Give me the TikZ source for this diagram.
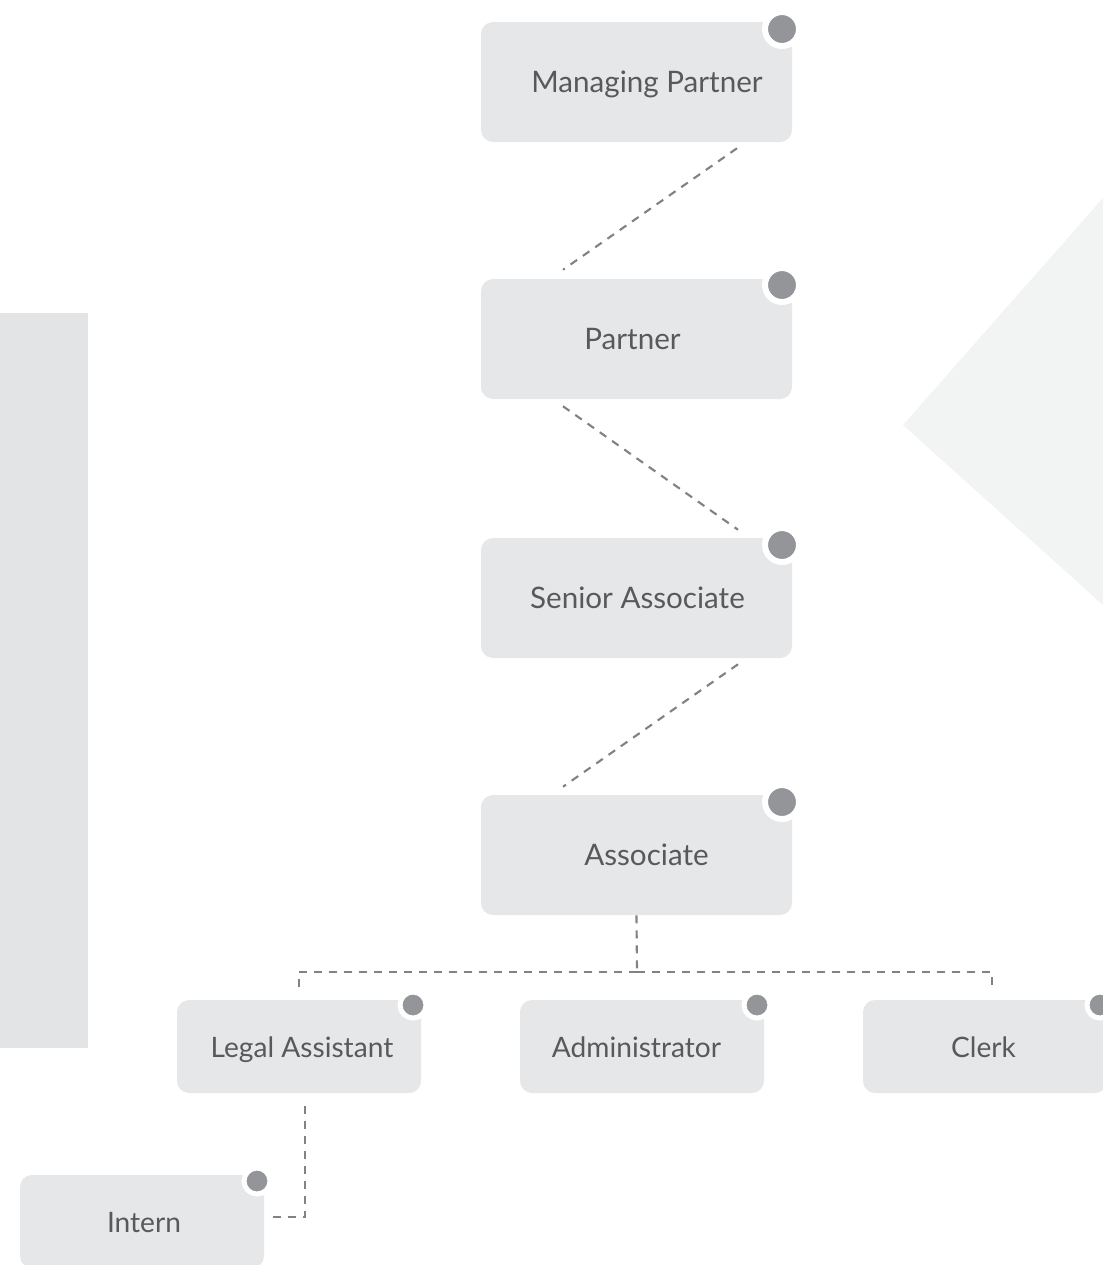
\documentclass[tikz,border=0pt]{standalone}
\usepackage{fontspec}
\setmainfont{Lato}
\usetikzlibrary{calc}
\definecolor{boxfill}{HTML}{E6E7E8}
\definecolor{txtc}{HTML}{58595B}
\definecolor{dotc}{HTML}{939598}
\definecolor{linec}{HTML}{808285}
\definecolor{leftbar}{HTML}{E3E4E5}
\definecolor{tric}{HTML}{F2F3F3}
\begin{document}
\begin{tikzpicture}[x=0.75pt,y=-0.75pt,
  bigbox/.style={fill=boxfill, rounded corners=9pt, minimum width=233.25pt, minimum height=90pt, inner sep=0pt},
  smallbox/.style={fill=boxfill, rounded corners=9pt, minimum width=183pt, minimum height=69.75pt, inner sep=0pt},
  lbl/.style={text=txtc, font=\fontsize{22.2}{26}\selectfont, inner sep=0pt, text height=15.9pt, text depth=0pt},
  slbl/.style={text=txtc, font=\fontsize{21.1}{25}\selectfont, inner sep=0pt, text height=15.1pt, text depth=0pt},
  bigdot/.style={circle, fill=dotc, draw=white, line width=4.5pt, minimum size=25.5pt, inner sep=0pt},
  smalldot/.style={circle, fill=dotc, draw=white, line width=3.75pt, minimum size=19.5pt, inner sep=0pt},
  conn/.style={draw=linec, line width=1.6pt, dash pattern=on 6pt off 5.25pt}
]
\useasboundingbox (0,0) rectangle (1103,1265);
\clip (0,0) rectangle (1103,1265);
% background shapes
\fill[leftbar] (0,313) rectangle (88,1048);
\fill[tric] (903,425) -- (1103,198) -- (1103,605) -- cycle;

% boxes
\node[bigbox] (mp) at (636.5,82) {};
\node[bigbox] (p) at (636.5,339) {};
\node[bigbox] (sa) at (636.5,598) {};
\node[bigbox] (a) at (636.5,855) {};
\node[smallbox] (la) at (299,1046.5) {};
\node[smallbox] (ad) at (642,1046.5) {};
\node[smallbox] (cl) at (985,1046.5) {};
\node[smallbox] (in) at (142,1221.5) {};

% connectors
\draw[conn] ($(mp.south)+(100.5,6)$) -- ($(p.north)+(-73.5,-9)$);
\draw[conn] ($(p.south)+(-73.5,7)$) -- ($(sa.north)+(101.5,-8)$);
\draw[conn] ($(sa.south)+(101.5,6)$) -- ($(a.north)+(-73.5,-8)$);
\coordinate (j) at ($(a.south)+(0.5,57)$);
\draw[conn] (a.south) -- (j);
\draw[conn] (j) -| ($(la.north)+(0,-12)$);
\draw[conn] (j) -| ($(cl.north)+(7,-13)$);
\draw[conn] ($(in.east)+(9,-4.5)$) -| ($(la.south)+(6,7)$);

% labels
\node[lbl] (mpt) at (647,82) {Managing Partner};
\node[lbl] (pt) at (632.5,339) {Partner};
\node[lbl] (sat) at (637.5,598) {Senior Associate};
\node[lbl] (at) at (646.5,855) {Associate};
\node[slbl] (lat) at (302,1047) {Legal Assistant};
\node[slbl] (adt) at (636.5,1047) {Administrator};
\node[slbl] (clt) at (983.5,1047) {Clerk};
\node[slbl] (int) at (144,1222) {Intern};

% dots
\node[bigdot] (mpd) at (782,29) {};
\node[bigdot] (pd) at (782,285) {};
\node[bigdot] (sad) at (782,545) {};
\node[bigdot] (ad2) at (782,802) {};
\node[smalldot] (lad) at (413,1005) {};
\node[smalldot] (add) at (757,1005) {};
\node[smalldot] (cld) at (1100,1005) {};
\node[smalldot] (ind) at (257,1181) {};
\end{tikzpicture}
\end{document}
